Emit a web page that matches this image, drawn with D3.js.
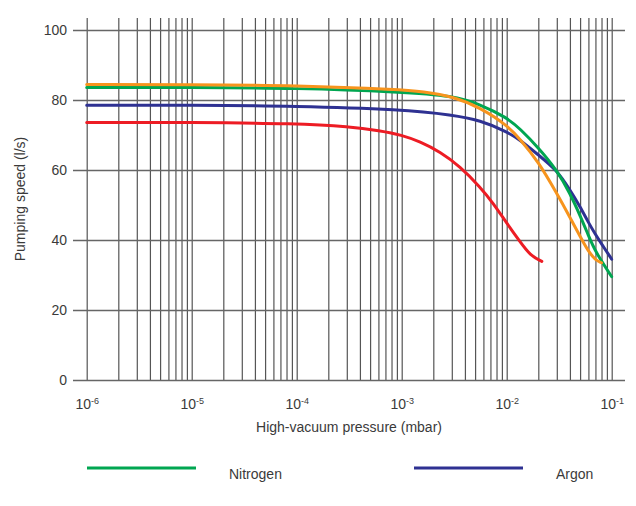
<!DOCTYPE html>
<html><head><meta charset="utf-8">
<script src="https://cdn.jsdelivr.net/npm/d3@7"></script>
<style>body{margin:0;background:#fff}svg{display:block}text{font-family:"Liberation Sans",Arial,sans-serif;fill:#3a3a3a}</style>
</head><body><svg id="c" width="636" height="506"></svg>
<script>
// Data (pressure in mbar, pumping speed in l/s)
const nitrogenP = [1e-6, 1e-5, 1e-4, 1e-3, 3.1e-3, 5.57e-3, 1e-2, 1.34e-2, 2e-2, 3e-2, 4e-2, 5e-2, 6e-2, 7e-2, 0.1];
const nitrogenS = [83.6, 83.6, 83.4, 82.3, 81.2, 78.8, 75.0, 71.8, 66.4, 60.0, 53.4, 47.0, 41.3, 36.6, 29.5];
const orangeP = [1e-6, 1e-5, 1e-4, 1e-3, 1.55e-3, 3.1e-3, 5.57e-3, 1e-2, 1.34e-2, 2e-2, 3e-2, 4e-2, 5e-2, 6e-2, 7e-2, 8e-2];
const orangeS = [84.4, 84.4, 84.2, 83.0, 82.4, 81.0, 77.8, 72.9, 68.8, 62.4, 53.3, 46.5, 41.0, 36.7, 34.3, 33.5];
const argonP = [1e-6, 1e-5, 1e-4, 1e-3, 3.1e-3, 5.57e-3, 1e-2, 1.34e-2, 2e-2, 3e-2, 4e-2, 5e-2, 6e-2, 7e-2, 8e-2, 0.1];
const argonS = [78.5, 78.5, 78.3, 77.3, 75.7, 74.2, 71.0, 68.6, 64.3, 60.0, 54.3, 49.5, 45.0, 41.6, 38.9, 34.5];
const redP = [1e-6, 1e-5, 1e-4, 3.2e-4, 6.2e-4, 1e-3, 1.49e-3, 2.32e-3, 3.59e-3, 5.57e-3, 7.45e-3, 1e-2, 1.34e-2, 1.67e-2, 2.16e-2];
const redS = [73.6, 73.6, 73.3, 72.4, 71.2, 70.0, 68.1, 65.2, 61.0, 55.2, 50.5, 44.8, 39.5, 35.6, 33.9];
const yTicks = [0, 20, 40, 60, 80, 100];
const decades = [-6, -5, -4, -3, -2, -1];
const xTitle = "High-vacuum pressure (mbar)";
const yTitle = "Pumping speed (l/s)";
const legendNames = ["Nitrogen", "Argon"];

const series = [
  {p: argonP, s: argonS, c: "#2e3192"},
  {p: redP, s: redS, c: "#ed1c24"},
  {p: nitrogenP, s: nitrogenS, c: "#00a651"},
  {p: orangeP, s: orangeS, c: "#f7941d"}
];

const svg = d3.select("#c");
const x = d3.scaleLog().domain([1e-6, 1e-1]).range([86.7, 611.7]);
const y = d3.scaleLinear().domain([0, 100]).range([380, 30]);

// vertical grid values
const xGrid = [];
decades.slice(0, -1).forEach(d => { for (let m = 1; m <= 9; m++) xGrid.push(m * Math.pow(10, d)); });
xGrid.push(1e-1);

// x axis with grid
const xAx = svg.append("g").attr("transform", "translate(0,380)")
  .call(d3.axisBottom(x).tickValues(xGrid).tickSize(-362).tickPadding(0).tickFormat(() => ""));
xAx.select(".domain").remove();
xAx.selectAll(".tick line").attr("stroke", "#555").attr("stroke-width", 1.2);
xAx.selectAll(".tick").filter(d => Math.abs(Math.log10(d) - Math.round(Math.log10(d))) < 1e-9)
  .select("text").each(function(d) {
    const t = d3.select(this).attr("y", 29).attr("dy", null).attr("font-size", 14).attr("text-anchor", "middle").attr("fill", "#444");
    t.append("tspan").text("10");
    t.append("tspan").attr("font-size", 9).attr("dy", -5).text(String(Math.round(Math.log10(d))));
  });

// y axis with grid
const yAx = svg.append("g").attr("transform", "translate(73,0)")
  .call(d3.axisLeft(y).tickValues(yTicks).tickSize(-552).tickPadding(6));
yAx.select(".domain").remove();
yAx.selectAll(".tick line").attr("stroke", "#666").attr("stroke-width", 1.5);
yAx.selectAll(".tick text").attr("font-size", 14).attr("fill", "#444").attr("font-family", "Liberation Sans, Arial, sans-serif");

// curves
const line = d3.line().x(d => x(d[0])).y(d => y(d[1])).curve(d3.curveBasis);
series.forEach(sr => {
  svg.append("path").datum(sr.p.map((p, i) => [p, sr.s[i]]))
    .attr("d", line).attr("fill", "none").attr("stroke", sr.c)
    .attr("stroke-width", 3).attr("stroke-linecap", "round");
});

// titles
svg.append("text").attr("x", 349).attr("y", 432).attr("text-anchor", "middle").attr("font-size", 14).text(xTitle);
svg.append("text").attr("transform", "translate(25,199) rotate(-90)").attr("text-anchor", "middle").attr("font-size", 14).text(yTitle);

// legend
const legend = [{name: legendNames[0], c: "#00a651", x1: 87, x2: 196, tx: 229}, {name: legendNames[1], c: "#2e3192", x1: 414, x2: 523, tx: 556}];
legend.forEach(l => {
  svg.append("line").attr("x1", l.x1).attr("x2", l.x2).attr("y1", 468).attr("y2", 468).attr("stroke", l.c).attr("stroke-width", 3);
  svg.append("text").attr("x", l.tx).attr("y", 479).attr("font-size", 14).text(l.name);
});
</script></body></html>
